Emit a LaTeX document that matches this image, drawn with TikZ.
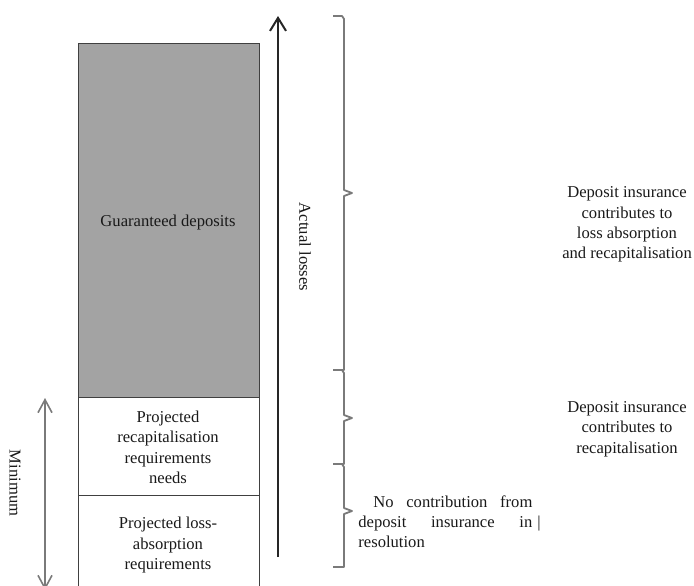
\documentclass[tikz,border=0pt]{standalone}
\usepackage{fontspec}
\setmainfont{Liberation Serif}
\usetikzlibrary{arrows.meta,calc}
\definecolor{depgrey}{HTML}{A3A3A3}
\definecolor{linegrey}{HTML}{7A7A7A}
\newcommand{\sidebrace}[3]{%
  \draw[bracegroup] (#1) -- ++(9,0) -- ++(2,3) |- ($(#2)+(11,-3)$) -- ($(#2)+(19,0)$) -- ($(#2)+(11,3)$) |- ($(#3)+(9,0)$) -- (#3);
}
\begin{document}
\begin{tikzpicture}[
          x=0.5pt, y=-0.5pt,
          every node/.style={font=\fontsize{8.3}{10.2}\selectfont, text=black!90, align=center, inner sep=0pt},
          block/.style={draw=black!75, line width=0.5pt},
          bracegroup/.style={draw=linegrey, line width=0.9pt, line join=round},
          barb/.style={-{Straight Barb[length=6.5pt, width=8pt]}}
    ]
      \useasboundingbox (0,0) rectangle (694,585);
      \clip (0,0) rectangle (694,585);

        \draw[block, fill=depgrey] (78,43) rectangle (259,397);
        \draw[block] (78,397) rectangle (259,495);
        \draw[block] (78,495) rectangle (259,590);

        \node (gd) at (168,222) {Guaranteed deposits};
        \node (recap) at (168,447.5) {Projected\\recapitalisation\\requirements\\needs};
        \node (loss) at (168,545) {Projected loss-\\absorption\\requirements};

        \coordinate (lossbot) at (278,557);
        \coordinate (losstop) at (278,16);
        \draw[barb, line width=1pt, black!85] (lossbot) -- (losstop);
        \node[rotate=-90] (actual) at (305,247) {Actual losses};

        \coordinate (minbot) at (45,590);
        \coordinate (mintop) at (45,398);
        \draw[{Straight Barb[length=6.5pt, width=7pt]}-{Straight Barb[length=6.5pt, width=7pt]}, line width=0.8pt, linegrey] (minbot) -- (mintop);
        \node[rotate=-90] (minimum) at (15,483) {Minimum};

        \coordinate (b0) at (333,16);
        \coordinate (t1) at (333,193);
        \coordinate (b1) at (333,370);
        \coordinate (t2) at (333,418);
        \coordinate (b2) at (333,464);
        \coordinate (t3) at (333,511);
        \coordinate (b3) at (333,567);
        \sidebrace{b0}{t1}{b1}
        \sidebrace{b1}{t2}{b2}
        \sidebrace{b2}{t3}{b3}

        \node (both) at (627,224.5) {Deposit insurance\\contributes to\\loss absorption\\and recapitalisation};
        \node (onlyrecap) at (627,429) {Deposit insurance\\contributes to\\recapitalisation};
        \node[align=left, anchor=north west] (none) at (358,495) {%
          \makebox[87pt][s]{\hspace*{7.5pt}No contribution from}\\
          \makebox[87pt][s]{deposit insurance in}\rlap{\hspace{2.5pt}\textbar}\\
          resolution};

      \end{tikzpicture}
\end{document}
